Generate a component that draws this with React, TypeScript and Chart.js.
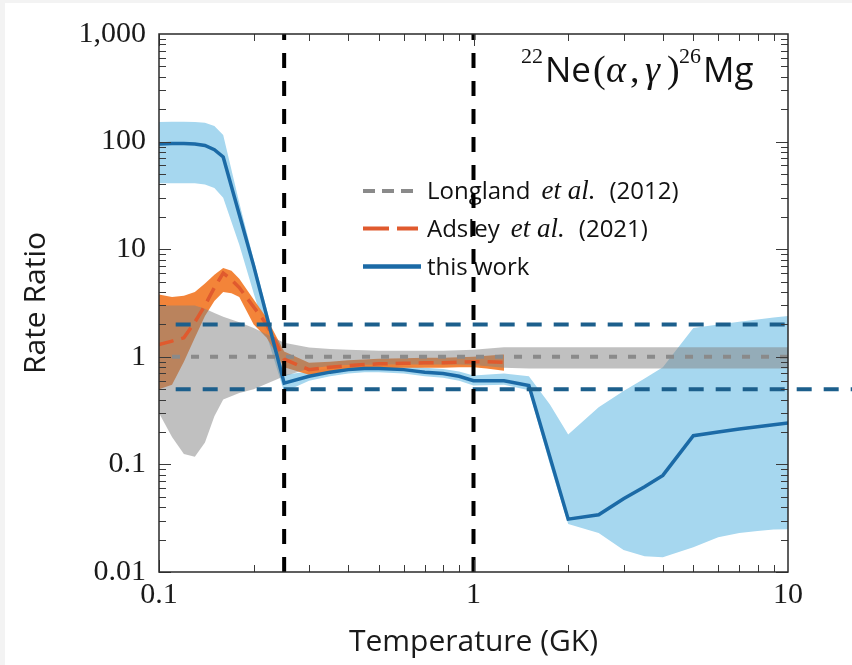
import React, { useEffect, useRef } from 'react';
import { Chart, registerables } from 'chart.js';

Chart.register(...registerables);

// ---------- data ----------
// "this work" median line
const lineT = [0.1, 0.11, 0.12, 0.13, 0.14, 0.15, 0.16, 0.18, 0.2, 0.25, 0.3, 0.35, 0.4, 0.45, 0.5, 0.6, 0.7, 0.8, 0.9, 1.0, 1.25, 1.5, 2.0, 2.5, 3.0, 3.5, 4.0, 5.0, 6.0, 7.0, 8.0, 9.0, 10.0];
const lineMid = [95, 96, 96, 95, 92, 84, 72, 21, 7.0, 0.57, 0.66, 0.72, 0.76, 0.78, 0.78, 0.76, 0.72, 0.70, 0.66, 0.60, 0.60, 0.54, 0.031, 0.034, 0.048, 0.062, 0.079, 0.185, 0.200, 0.213, 0.224, 0.234, 0.242];
// "this work" uncertainty band
const bandT = [0.1, 0.11, 0.12, 0.13, 0.14, 0.15, 0.16, 0.18, 0.2, 0.25, 0.3, 0.35, 0.4, 0.45, 0.5, 0.6, 0.7, 0.8, 0.9, 1.0, 1.25, 1.5, 1.75, 2.0, 2.5, 3.0, 3.5, 4.0, 5.0, 6.0, 7.0, 8.0, 9.0, 10.0];
const bandHi = [152, 153, 153, 152, 150, 140, 115, 27, 8.0, 0.68, 0.73, 0.79, 0.83, 0.85, 0.85, 0.83, 0.79, 0.77, 0.73, 0.67, 0.70, 0.66, 0.36, 0.19, 0.34, 0.48, 0.63, 0.80, 1.85, 2.0, 2.12, 2.22, 2.32, 2.4];
const bandLo = [41, 41, 41, 41, 40, 37, 30, 11, 3.9, 0.47, 0.60, 0.66, 0.70, 0.72, 0.72, 0.70, 0.66, 0.64, 0.60, 0.54, 0.55, 0.49, 0.10, 0.028, 0.023, 0.016, 0.014, 0.0137, 0.017, 0.021, 0.023, 0.024, 0.0248, 0.025];
// Adsley et al. (2021)
const adsleyT = [0.1, 0.11, 0.12, 0.13, 0.14, 0.15, 0.16, 0.17, 0.18, 0.2, 0.22, 0.25, 0.3, 0.35, 0.4, 0.5, 0.6, 0.7, 0.8, 0.9, 1.0, 1.1, 1.25];
const adsleyMid = [1.3, 1.4, 1.5, 2.1, 3.0, 4.4, 6.0, 5.2, 4.4, 2.9, 2.0, 0.95, 0.76, 0.80, 0.83, 0.86, 0.87, 0.88, 0.88, 0.89, 0.90, 0.90, 0.89];
const adsleyHi = [3.8, 3.6, 3.7, 4.0, 4.8, 5.8, 6.7, 6.3, 5.3, 3.4, 2.3, 1.12, 0.88, 0.90, 0.93, 0.96, 0.97, 0.98, 0.98, 0.99, 1.0, 1.02, 1.05];
const adsleyLo = [0.5, 0.55, 0.9, 1.5, 2.4, 3.3, 4.0, 3.9, 3.6, 2.0, 1.5, 0.8, 0.68, 0.72, 0.75, 0.78, 0.79, 0.79, 0.79, 0.80, 0.80, 0.78, 0.74];
// Longland et al. (2012)
const longlandT = [0.1, 0.11, 0.12, 0.13, 0.14, 0.15, 0.16, 0.18, 0.2, 0.25, 0.3, 0.35, 0.4, 0.5, 0.6, 0.7, 0.8, 0.9, 1.0, 1.25, 1.5, 2.0, 3.0, 5.0, 10.0];
const longlandHi = [3.0, 3.0, 3.0, 3.0, 2.8, 2.55, 2.35, 2.1, 1.85, 1.35, 1.22, 1.18, 1.16, 1.14, 1.14, 1.14, 1.14, 1.15, 1.16, 1.23, 1.23, 1.23, 1.23, 1.23, 1.23];
const longlandLo = [0.30, 0.18, 0.125, 0.118, 0.16, 0.28, 0.40, 0.46, 0.50, 0.66, 0.78, 0.82, 0.84, 0.85, 0.85, 0.85, 0.85, 0.85, 0.84, 0.79, 0.78, 0.78, 0.78, 0.78, 0.78];
const unityT = [0.11, 10];
const unityV = [1, 1];
// factor-of-two guide lines
const upperGuideT = [0.113, 10];
const upperGuideV = [2, 2];
const lowerGuideT = [0.113, 16.5];
const lowerGuideV = [0.5, 0.5];
// vertical markers
const markerT = [0.25, 1.0];
const markerSpan = [0.01, 1000];

// axes
const xTickValues = [0.1, 1, 10];
const xTickLabels = ['0.1', '1', '10'];
const yTickValues = [0.01, 0.1, 1, 10, 100, 1000];
const yTickLabels = ['0.01', '0.1', '1', '10', '100', '1,000'];

// texts
const titleParts = ['22', 'Ne', '(', 'α', ',', 'γ', ')', '26', 'Mg'];
const legendRows = [
  ['Longland', 'et al.', '(2012)'],
  ['Adsley', 'et al.', '(2021)'],
  ['this work'],
];

const SANS = '"Open Sans", "DejaVu Sans", sans-serif';
const SERIF = '"Liberation Serif", "DejaVu Serif", serif';

const C_BAND = '#a6d7ef';
const C_LINE = '#1b6aa6';
const C_ORANGE_BAND = 'rgba(242, 122, 40, 0.92)';
const C_ORANGE_LINE = '#e05a2e';
const C_GREY_BAND = 'rgba(130, 130, 130, 0.5)';
const C_GREY_LINE = '#8a8a8a';
const C_GUIDE = '#1c5f8c';

const pts = (xs: number[], ys: number[]) => xs.map((x, i) => ({ x, y: ys[i] }));

export default function App() {
  const ref = useRef<HTMLCanvasElement | null>(null);

  useEffect(() => {
    const canvas = ref.current;
    if (!canvas) return;

    const decor = {
      id: 'decor',
      beforeDatasetsDraw(chart: any) {
        const ctx = chart.ctx as CanvasRenderingContext2D;
        ctx.save();
        ctx.fillStyle = '#111';
        ctx.textBaseline = 'alphabetic';
        // title: reaction label, pieces laid out left to right
        const fonts = [
          `22px ${SERIF}`, `35px ${SANS}`, `38px ${SERIF}`, `italic 38px ${SERIF}`, `38px ${SERIF}`,
          `italic 38px ${SERIF}`, `38px ${SERIF}`, `22px ${SERIF}`, `35px ${SANS}`,
        ];
        const px = [516, 540, 588, 601, 625, 640, 662, 674, 698];
        const dys = [-19, 0, 0, 0, 0, 0, 0, -19, 0];
        titleParts.forEach((t, i) => {
          ctx.font = fonts[i];
          ctx.fillText(t, px[i], 79 + dys[i]);
        });

        // legend
        const rowY = [188, 225.5, 263.5];
        const x0 = 358, x1 = 413;
        ctx.lineWidth = 4;
        ctx.strokeStyle = C_GREY_LINE;
        ctx.setLineDash([12, 7]);
        ctx.beginPath(); ctx.moveTo(x0, rowY[0]); ctx.lineTo(x1, rowY[0]); ctx.stroke();
        ctx.strokeStyle = C_ORANGE_LINE;
        ctx.setLineDash([26, 8]);
        ctx.beginPath(); ctx.moveTo(x0, rowY[1]); ctx.lineTo(x1, rowY[1]); ctx.stroke();
        ctx.strokeStyle = C_LINE;
        ctx.lineWidth = 4.5;
        ctx.setLineDash([]);
        ctx.beginPath(); ctx.moveTo(x0, rowY[2]); ctx.lineTo(x1 + 3, rowY[2]); ctx.stroke();
        const gapsAfter = [11, 14];
        legendRows.forEach((parts, r) => {
          let lx = 422;
          const by = rowY[r] + 8;
          parts.forEach((p, j) => {
            ctx.font = j === 1 ? `italic 27px ${SERIF}` : `24px ${SANS}`;
            if (j > 0) lx += gapsAfter[j - 1];
            ctx.fillText(p, lx, by);
            lx += ctx.measureText(p).width;
          });
        });
        ctx.restore();
      },
      afterDatasetsDraw(chart: any) {
        const ctx = chart.ctx as CanvasRenderingContext2D;
        const a = chart.chartArea;
        const xs = chart.scales.x;
        const ys = chart.scales.y;
        ctx.save();
        ctx.strokeStyle = '#3a3a3a';
        ctx.lineWidth = 1;
        ctx.setLineDash([]);
        ctx.beginPath();
        for (let e = -2; e <= 2; e++) {
          for (let m = 1; m <= 9; m++) {
            const v = m * Math.pow(10, e);
            const py = Math.round(ys.getPixelForValue(v)) + 0.5;
            const len = m === 1 ? 12 : 7;
            ctx.moveTo(a.left, py); ctx.lineTo(a.left + len, py);
            ctx.moveTo(a.right - len, py); ctx.lineTo(a.right, py);
          }
        }
        for (let e = -1; e <= 0; e++) {
          for (let m = 1; m <= 9; m++) {
            const v = m * Math.pow(10, e);
            const p = Math.round(xs.getPixelForValue(v)) + 0.5;
            const len = m === 1 ? 12 : 7;
            ctx.moveTo(p, a.bottom); ctx.lineTo(p, a.bottom - len);
            ctx.moveTo(p, a.top); ctx.lineTo(p, a.top + len);
          }
        }
        ctx.stroke();
        ctx.lineWidth = 1.5;
        ctx.strokeStyle = '#2a2a2a';
        ctx.strokeRect(a.left, a.top, a.right - a.left, a.bottom - a.top);
        ctx.restore();
      },
    };

    const noPoint = { pointRadius: 0, pointHoverRadius: 0 };

    const chart = new Chart(canvas, {
      type: 'line',
      data: {
        datasets: [
          { label: 'band hi', data: pts(bandT, bandHi), borderWidth: 0, borderColor: 'transparent', backgroundColor: C_BAND, fill: '+1', order: 60, ...noPoint },
          { label: 'band lo', data: pts(bandT, bandLo), borderWidth: 0, borderColor: 'transparent', fill: false, order: 60, ...noPoint },
          { label: 'adsley hi', data: pts(adsleyT, adsleyHi), borderWidth: 0, borderColor: 'transparent', backgroundColor: C_ORANGE_BAND, fill: '+1', order: 50, ...noPoint },
          { label: 'adsley lo', data: pts(adsleyT, adsleyLo), borderWidth: 0, borderColor: 'transparent', fill: false, order: 50, ...noPoint },
          { label: 'longland hi', data: pts(longlandT, longlandHi), borderWidth: 0, borderColor: 'transparent', backgroundColor: C_GREY_BAND, fill: '+1', order: 40, ...noPoint },
          { label: 'longland lo', data: pts(longlandT, longlandLo), borderWidth: 0, borderColor: 'transparent', fill: false, order: 40, ...noPoint },
          { label: 'Longland et al. (2012)', data: pts(unityT, unityV), borderColor: C_GREY_LINE, borderWidth: 4, borderDash: [8, 11], fill: false, order: 30, ...noPoint },
          { label: 'Adsley et al. (2021)', data: pts(adsleyT, adsleyMid), borderColor: C_ORANGE_LINE, borderWidth: 3.5, borderDash: [15, 8], fill: false, order: 20, ...noPoint },
          { label: 'this work', data: pts(lineT, lineMid), borderColor: C_LINE, borderWidth: 3.5, fill: false, order: 10, ...noPoint },
          { label: 'x2', data: pts(upperGuideT, upperGuideV), borderColor: C_GUIDE, borderWidth: 4, borderDash: [15, 12], fill: false, order: 5, ...noPoint },
          { label: 'x0.5', data: pts(lowerGuideT, lowerGuideV), borderColor: C_GUIDE, borderWidth: 4, borderDash: [15, 12], fill: false, order: 5, clip: false as any, ...noPoint },
          { label: 'T1', data: pts([markerT[0], markerT[0]], markerSpan), borderColor: '#000', borderWidth: 4, borderDash: [15, 13], fill: false, order: 1, ...noPoint },
          { label: 'T2', data: pts([markerT[1], markerT[1]], markerSpan), borderColor: '#000', borderWidth: 4, borderDash: [15, 13], fill: false, order: 1, ...noPoint },
        ] as any,
      },
      options: {
        responsive: false,
        animation: false,
        devicePixelRatio: 1,
        events: [],
        layout: { padding: { left: 0, top: 24, right: 64, bottom: 0 } },
        elements: { line: { tension: 0 }, point: { radius: 0 } },
        plugins: { legend: { display: false }, tooltip: { enabled: false } },
        scales: {
          x: {
            type: 'logarithmic',
            min: 0.1,
            max: 10,
            position: 'bottom',
            grid: { display: false, drawTicks: false },
            border: { display: false },
            afterBuildTicks: (s: any) => { s.ticks = xTickValues.map((v) => ({ value: v })); },
            afterFit: (s: any) => { s.height = 93; },
            ticks: {
              autoSkip: false, maxRotation: 0, padding: 5, color: '#1a1a1a',
              font: { family: SERIF, size: 30 },
              callback: (_v: any, i: number) => xTickLabels[i],
            },
            title: {
              display: true, text: 'Temperature (GK)', color: '#1a1a1a',
              font: { family: SANS, size: 30 }, padding: { top: 0, bottom: 5 },
            },
          },
          y: {
            type: 'logarithmic',
            min: 0.01,
            max: 1000,
            position: 'left',
            grid: { display: false, drawTicks: false },
            border: { display: false },
            afterBuildTicks: (s: any) => { s.ticks = yTickValues.map((v) => ({ value: v })); },
            afterFit: (s: any) => { s.width = 154; },
            ticks: {
              autoSkip: false, padding: 13, color: '#1a1a1a',
              font: { family: SERIF, size: 30 },
              callback: (_v: any, i: number) => yTickLabels[i],
            },
            title: {
              display: true, text: 'Rate Ratio', color: '#1a1a1a',
              font: { family: SANS, size: 30 }, padding: { top: 13, bottom: 0 },
            },
          },
        } as any,
      },
      plugins: [decor],
    });

    return () => chart.destroy();
  }, []);

  return (
    <div style={{ position: 'fixed', left: 0, top: 0, width: 852, height: 665, background: '#f3f3f3' }}>
      <div style={{ position: 'absolute', left: 5, top: 3, width: 847, height: 662, background: '#ffffff' }}>
        <canvas ref={ref} width={847} height={662} style={{ display: 'block', width: 847, height: 662 }} />
      </div>
    </div>
  );
}
